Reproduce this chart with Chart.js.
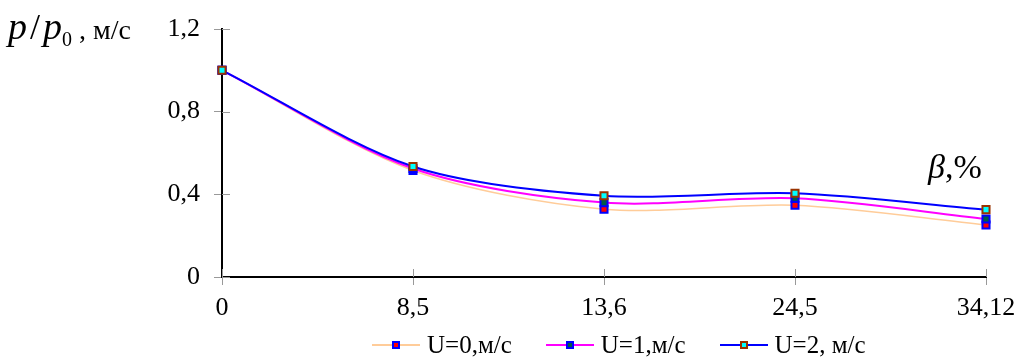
<!DOCTYPE html>
<html>
<head>
<meta charset="utf-8">
<script src="https://cdn.jsdelivr.net/npm/chart.js@4/dist/chart.umd.min.js"></script>
<style>
  body { margin: 0; background: #fff; }
  #wrap { position: relative; width: 1019px; height: 359px; font-family: "Liberation Serif", "DejaVu Serif", serif; }
  #c { position: absolute; left: 0; top: 0; }
  .ylab { position: absolute; left: 8px; top: 4px; font-size: 28px; white-space: nowrap; }
  .ylab i { font-size: 38px; }
  .ylab .sl { font-size: 36px; margin: 0 3px; }
  .ylab sub { font-size: 20px; }
  .xlab { position: absolute; left: 928px; top: 148px; font-size: 34px; }
  #legend { position: absolute; top: 329px; left: 372px; display: flex; font-size: 25px; line-height: 32px; }
  .item { display: flex; align-items: center; margin-right: 34px; }
  .sw { position: relative; width: 48px; height: 2px; margin-right: 7px; }
  .mk { position: absolute; left: 20px; top: -3px; width: 4px; height: 4px; border: 2px solid; }
</style>
</head>
<body>
<div id="wrap">
  <canvas id="c" width="1019" height="359"></canvas>
  <div class="ylab"><i>p</i><span class="sl">/</span><i>p</i><sub>0</sub> , м/с</div>
  <div class="xlab"><i>β</i>,%</div>
  <div id="legend"></div>
</div>
<script>
const categories = ['0', '8,5', '13,6', '24,5', '34,12']
const seriesNames = ['U=0,м/с', 'U=1,м/с', 'U=2, м/с']
const u0 = [1.0, 0.515, 0.328, 0.347, 0.252]
const u1 = [1.0, 0.525, 0.360, 0.381, 0.281]
const u2 = [1.0, 0.535, 0.393, 0.405, 0.326]
const yTicks = [0, 0.4, 0.8, 1.2]

const lineColors = ['#FFCC99', '#FF00FF', '#0000FF']
const markerBorders = ['#0000FF', '#0000FF', '#993300']
const markerFills = ['#FF0000', '#005a46', '#00FFFF']

// small inner ticks on the plot side of both axes
const innerTicks = {
    id: 'innerTicks',
    afterDraw(chart) {
        const ctx = chart.ctx
        const x = chart.scales.x
        const y = chart.scales.y
        ctx.save()
        ctx.strokeStyle = '#999'
        ctx.lineWidth = 1
        ctx.beginPath()
        for (let i = 0; i < categories.length; i++) {
            const px = Math.round(x.getPixelForValue(i)) + 0.5
            ctx.moveTo(px, x.top)
            ctx.lineTo(px, x.top - 8)
        }
        for (let v of yTicks) {
            const py = Math.round(y.getPixelForValue(v)) + 0.5
            ctx.moveTo(y.right, py)
            ctx.lineTo(y.right + 8, py)
        }
        ctx.stroke()
        ctx.restore()
    }
}

const values = [u0, u1, u2]
const datasets = values.map((d, i) => ({
    label: seriesNames[i],
    data: d,
    borderColor: lineColors[i],
    borderWidth: i == 0 ? 1.5 : 2,
    tension: 0.3,
    pointStyle: 'rect',
    pointRadius: 5,
    pointBorderWidth: 2,
    pointBorderColor: markerBorders[i],
    pointBackgroundColor: markerFills[i],
    order: 3 - i
}))

new Chart(document.getElementById('c'), {
    type: 'line',
    data: { labels: categories, datasets: datasets },
    options: {
        responsive: false,
        animation: false,
        layout: { padding: { top: 29, right: 0, left: 0, bottom: 0 } },
        plugins: { legend: { display: false }, tooltip: { enabled: false } },
        scales: {
            x: {
                offset: false,
                grid: { drawOnChartArea: false, tickLength: 8, tickColor: '#999' },
                border: { color: '#000', width: 2 },
                ticks: { color: '#000', font: { family: 'Liberation Serif', size: 26 }, padding: 8, maxRotation: 0, autoSkip: false },
                afterFit(scale) {
                    scale.height = 82
                    scale.paddingRight = 33
                    scale.paddingLeft = 0
                }
            },
            y: {
                min: 0,
                max: 1.2,
                afterBuildTicks(scale) { scale.ticks = yTicks.map(v => ({ value: v })) },
                grid: { drawOnChartArea: false, tickLength: 8, tickColor: '#999' },
                border: { color: '#000', width: 2 },
                ticks: {
                    color: '#000',
                    font: { family: 'Liberation Serif', size: 26 },
                    padding: 14,
                    callback: v => String(v).replace('.', ',')
                },
                afterFit(scale) {
                    scale.width = 222
                    scale.paddingTop = 0
                    scale.paddingBottom = 0
                }
            }
        }
    },
    plugins: [innerTicks]
})

const legend = document.getElementById('legend')
seriesNames.forEach((name, i) => {
    const item = document.createElement('div')
    item.className = 'item'
    item.innerHTML = '<div class="sw" style="background:' + lineColors[i] + '"><div class="mk" style="border-color:' +
        markerBorders[i] + ';background:' + markerFills[i] + '"></div></div><span>' + name + '</span>'
    legend.appendChild(item)
})
</script>
</body>
</html>
